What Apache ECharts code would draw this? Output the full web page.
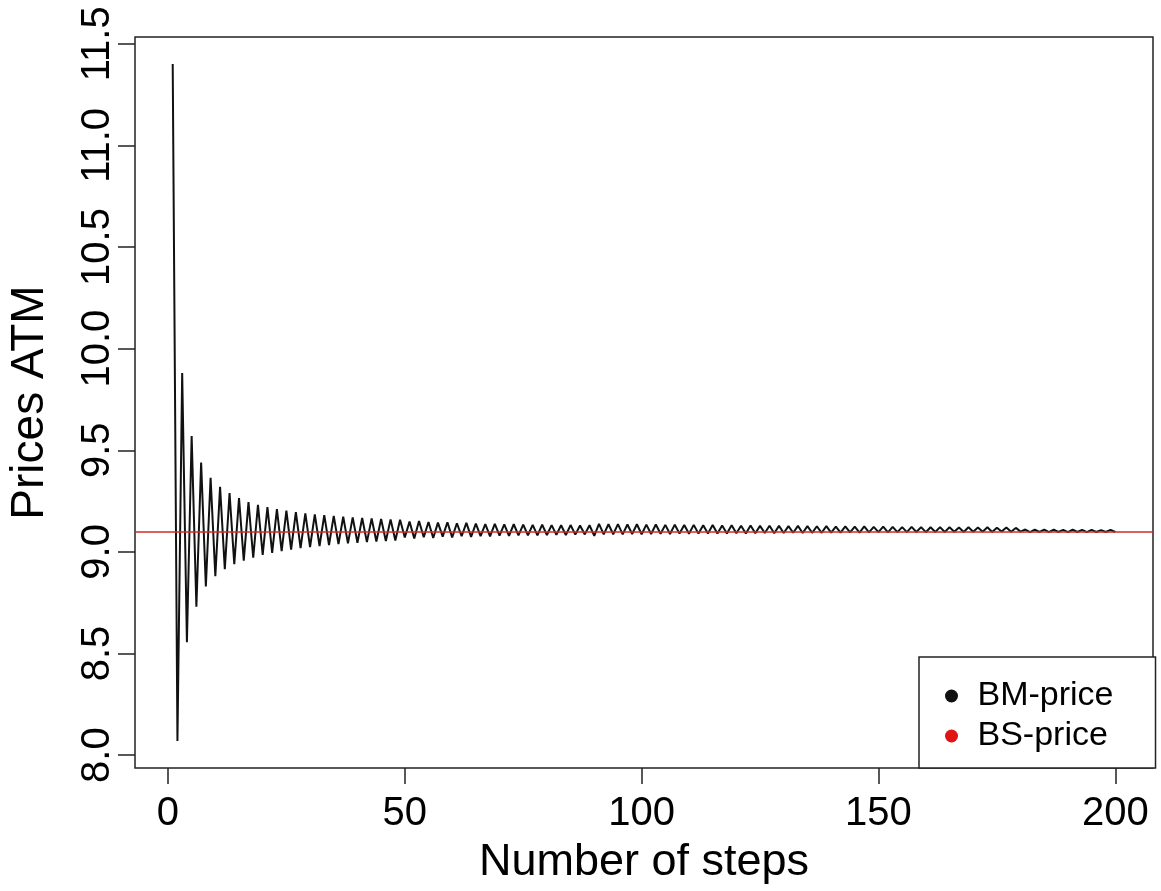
<!DOCTYPE html>
<html>
<head>
<meta charset="utf-8">
<script src="https://cdn.jsdelivr.net/npm/echarts@6/dist/echarts.min.js"></script>
<style>
  html, body { margin: 0; padding: 0; background: #fff; }
  #chart { width: 1161px; height: 891px; }
</style>
</head>
<body>
<div id="chart"></div>
<script>
// Binomial-model (BM) option price for each number of steps, at-the-money
const bmPrice = [
  11.40, 8.07, 9.88, 8.555, 9.57, 8.73, 9.44, 8.83, 9.365, 8.88,
  9.32, 8.915, 9.29, 8.94, 9.265, 8.957, 9.245, 8.972, 9.232, 8.985,
  9.22, 8.995, 9.21, 9.004, 9.203, 9.011, 9.196, 9.018, 9.19, 9.024,
  9.185, 9.029, 9.181, 9.034, 9.177, 9.038, 9.173, 9.042, 9.17, 9.045,
  9.167, 9.048, 9.164, 9.051, 9.162, 9.054, 9.16, 9.056, 9.158, 9.071,
  9.149, 9.066, 9.152, 9.072, 9.147, 9.068, 9.144, 9.075, 9.146, 9.071,
  9.141, 9.077, 9.143, 9.074, 9.139, 9.078, 9.137, 9.076, 9.138, 9.08,
  9.135, 9.079, 9.136, 9.081, 9.134, 9.082, 9.133, 9.081, 9.134, 9.083,
  9.132, 9.084, 9.131, 9.083, 9.132, 9.085, 9.13, 9.086, 9.131, 9.079,
  9.138, 9.086, 9.136, 9.087, 9.137, 9.086, 9.135, 9.088, 9.136, 9.087,
  9.134, 9.088, 9.135, 9.089, 9.133, 9.088, 9.134, 9.09, 9.132, 9.089,
  9.133, 9.09, 9.131, 9.091, 9.132, 9.09, 9.13, 9.091, 9.131, 9.092,
  9.129, 9.091, 9.13, 9.092, 9.128, 9.093, 9.129, 9.092, 9.128, 9.093,
  9.127, 9.094, 9.128, 9.093, 9.127, 9.094, 9.126, 9.094, 9.127, 9.095,
  9.124, 9.095, 9.125, 9.096, 9.124, 9.095, 9.125, 9.096, 9.123, 9.097,
  9.124, 9.096, 9.123, 9.097, 9.122, 9.097, 9.123, 9.098, 9.122, 9.097,
  9.121, 9.098, 9.122, 9.098, 9.121, 9.099, 9.12, 9.098, 9.121, 9.099,
  9.12, 9.099, 9.121, 9.098, 9.119, 9.1, 9.12, 9.099, 9.118, 9.1,
  9.11, 9.097, 9.109, 9.098, 9.11, 9.097, 9.109, 9.098, 9.108, 9.097,
  9.109, 9.098, 9.108, 9.097, 9.108, 9.098, 9.107, 9.098, 9.108, 9.098
];
// Black-Scholes reference price
const bsPrice = 9.10;

// Tick positions and labels
const xTicks = [0, 50, 100, 150, 200];
const yTicks = [8.0, 8.5, 9.0, 9.5, 10.0, 10.5, 11.0, 11.5];

const seriesNames = ['BM-price', 'BS-price'];
const steps = bmPrice.map((_, i) => i + 1);

// R-style axis ranges: data range widened by 4% on each side
function paddedRange(lo, hi) {
  const d = (hi - lo) * 0.04;
  return [lo - d, hi + d];
}
const [xMin, xMax] = paddedRange(steps[0], steps[steps.length - 1]);
const [yMin, yMax] = paddedRange(Math.min(...bmPrice), Math.max(...bmPrice));

const font = "'Liberation Sans', Arial, Helvetica, sans-serif";

const chart = echarts.init(document.getElementById('chart'), null, { renderer: 'canvas' });
chart.setOption({
  animation: false,
  backgroundColor: '#fff',
  grid: {
    left: 135, right: 8, top: 37, bottom: 123,
    show: true, borderColor: '#222', borderWidth: 1.5, backgroundColor: 'transparent',
    containLabel: false, outerBoundsMode: 'none'
  },
  xAxis: {
    type: 'value', min: xMin, max: xMax,
    name: 'Number of steps', nameLocation: 'middle', nameGap: 72,
    nameTextStyle: { fontFamily: font, fontSize: 45, color: '#000' },
    axisLine: { show: false, onZero: false },
    splitLine: { show: false },
    axisTick: { show: true, length: 16, customValues: xTicks, lineStyle: { color: '#222', width: 1.5 } },
    axisLabel: { customValues: xTicks, margin: 26, fontFamily: font, fontSize: 40, color: '#000' }
  },
  yAxis: {
    type: 'value', min: yMin, max: yMax,
    name: 'Prices ATM', nameLocation: 'middle', nameGap: 82, nameRotate: 90,
    nameTextStyle: { fontFamily: font, fontSize: 46, color: '#000' },
    axisLine: { show: false, onZero: false },
    splitLine: { show: false },
    axisTick: { show: true, length: 17, customValues: yTicks, lineStyle: { color: '#222', width: 1.5 } },
    axisLabel: {
      customValues: yTicks, rotate: 90, margin: 17,
      fontFamily: font, fontSize: 40, color: '#000',
      formatter: v => v.toFixed(1)
    }
  },
  legend: {
    data: seriesNames,
    orient: 'vertical', left: 919, top: 657,
    icon: 'circle', itemWidth: 42, itemHeight: 13, itemGap: 0,
    padding: [19, 42, 12, 26],
    backgroundColor: '#fff', borderColor: '#222', borderWidth: 1.5, borderRadius: 0,
    selectedMode: false,
    textStyle: { fontFamily: font, fontSize: 34, color: '#000', lineHeight: 40 },
    z: 10
  },
  series: [
    {
      name: seriesNames[0], type: 'line',
      data: steps.map((s, i) => [s, bmPrice[i]]),
      showSymbol: false, symbol: 'none', sampling: null,
      color: '#111',
      lineStyle: { color: '#111', width: 2 },
      z: 2
    },
    {
      name: seriesNames[1], type: 'line', data: [],
      color: '#e01414',
      markLine: {
        silent: true, symbol: 'none', animation: false,
        label: { show: false },
        lineStyle: { color: '#cf2b2b', width: 1.6, type: 'solid' },
        emphasis: { disabled: true },
        data: [{ yAxis: bsPrice }]
      },
      z: 3
    }
  ]
});
</script>
</body>
</html>
